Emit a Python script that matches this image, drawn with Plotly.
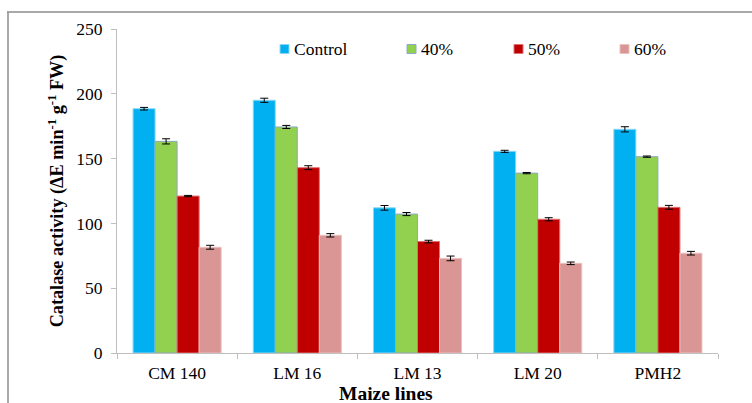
import plotly.graph_objects as go

# Catalase activity of maize lines under drought levels
lines = ["CM 140", "LM 16", "LM 13", "LM 20", "PMH2"]
control = [188.5, 195.0, 112.0, 155.6, 172.6]
pct40 = [163.3, 174.4, 107.2, 138.8, 151.5]
pct50 = [121.1, 143.0, 86.0, 103.2, 112.4]
pct60 = [81.6, 90.8, 73.0, 69.2, 77.0]

err_control = [1.0, 1.6, 1.8, 0.8, 2.0]
err40 = [2.0, 1.2, 1.2, 0.5, 0.5]
err50 = [0.5, 1.5, 1.0, 1.2, 1.5]
err60 = [1.5, 1.3, 1.8, 1.0, 1.4]

series = [
    ("Control", control, err_control, "#00B0F0", "#8AD8F5"),
    ("40%", pct40, err40, "#92D050", "#8FA8C4"),
    ("50%", pct50, err50, "#C00000", "#E07070"),
    ("60%", pct60, err60, "#D99694", "#EBC0BF"),
]

FONT = "Times New Roman"
TICK = 17.5
YTITLE = 18.2
XTITLE = 19.5

L, R, T, B = 117, 34, 29, 50
W, H = 752, 403
pw, ph = W - L - R, H - T - B

def px_x(p):
    return (p - L) / pw

def px_y(q):
    return (H - B - q) / ph

fig = go.Figure()
for name, vals, errs, color, edge in series:
    fig.add_trace(go.Bar(
        x=lines, y=vals, name=name, showlegend=False,
        marker=dict(color=color, line=dict(color=edge, width=1)),
        error_y=dict(type="data", array=errs, visible=True,
                     color="black", thickness=1, width=4),
    ))

# Key row across the top: a square swatch followed by the series name
key_left = [280, 407, 514, 620]
key_mid = 49
annotations = [dict(text="<b>Maize lines</b>", xref="paper", yref="paper",
                    x=px_x(386), y=px_y(393), xanchor="center", yanchor="middle",
                    showarrow=False, font=dict(family=FONT, size=XTITLE))]
shapes = [
    dict(type="line", xref="paper", yref="paper", x0=px_x(7), x1=px_x(752),
         y0=px_y(12), y1=px_y(12), line=dict(color="#8C8C8C", width=1.5)),
    dict(type="line", xref="paper", yref="paper", x0=px_x(8), x1=px_x(8),
         y0=px_y(12), y1=px_y(403), line=dict(color="#8C8C8C", width=1.5)),
]
for (name, _, _, color, edge), kx in zip(series, key_left):
    shapes.append(dict(type="rect", xref="paper", yref="paper",
                       x0=px_x(kx), x1=px_x(kx + 9),
                       y0=px_y(key_mid + 4.5), y1=px_y(key_mid - 4.5),
                       fillcolor=color, line=dict(color=edge, width=1)))
    annotations.append(dict(text=name, xref="paper", yref="paper",
                            x=px_x(kx + 12), y=px_y(key_mid), xanchor="left",
                            yanchor="middle", showarrow=False,
                            font=dict(family=FONT, size=TICK, color="black")))

fig.update_layout(
    width=W, height=H,
    margin=dict(l=L, r=R, t=T, b=B, autoexpand=False),
    paper_bgcolor="white", plot_bgcolor="white",
    barmode="group", bargap=0.267, bargroupgap=0,
    font=dict(family=FONT, size=TICK, color="black"),
    showlegend=False,
    xaxis=dict(type="category", showline=True, linecolor="#BFBFBF", linewidth=1,
               ticks="outside", ticklen=5, tickcolor="#BFBFBF", tickson="boundaries",
               showgrid=False, tickfont=dict(family=FONT, size=TICK),
               ticklabelstandoff=4, automargin=False),
    yaxis=dict(range=[0, 250], tickvals=[0, 50, 100, 150, 200, 250],
               showline=True, linecolor="#BFBFBF", linewidth=1,
               ticks="outside", ticklen=5, tickcolor="#BFBFBF",
               showgrid=False, zeroline=False, automargin=False,
               tickfont=dict(family=FONT, size=TICK), ticklabelstandoff=5,
               title=dict(text="<b>Catalase activity (ΔE min<sup>-1</sup> g<sup>-1</sup> FW)</b>",
                          font=dict(family=FONT, size=YTITLE), standoff=7)),
    annotations=annotations,
    shapes=shapes,
)

fig.write_html("out.html")
